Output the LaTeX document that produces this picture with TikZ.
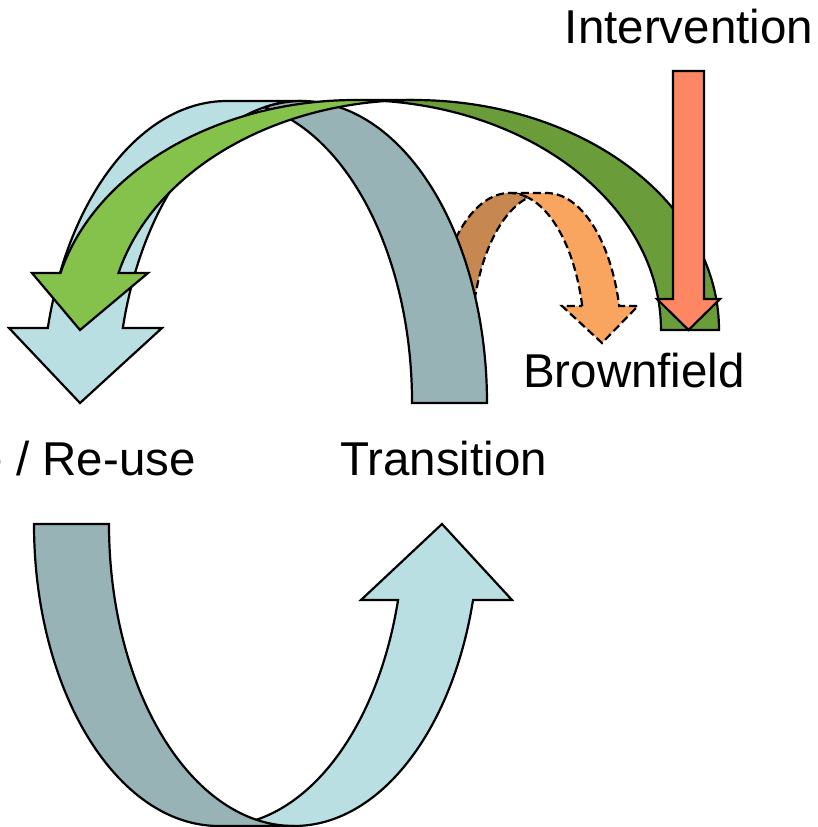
\documentclass[tikz,border=0pt]{standalone}
\usepackage{fontspec}
\setmainfont{Liberation Sans}
\definecolor{iceblue}{HTML}{B9DFE3}
\definecolor{slateblue}{HTML}{97B3B6}
\definecolor{leafgreen}{HTML}{84C24B}
\definecolor{mossgreen}{HTML}{6A9D3A}
\definecolor{apricot}{HTML}{F9A55F}
\definecolor{rust}{HTML}{C68850}
\definecolor{salmon}{HTML}{FD8763}
\begin{document}
\begin{tikzpicture}[x=1pt,y=1pt,
  ribbon/.style={draw=black,line width=2.2pt,line join=miter,miter limit=3},
  dashribbon/.style={ribbon,dash pattern=on 8pt off 4pt},
  lbl/.style={font=\fontsize{47.5}{56}\selectfont,inner sep=0pt}]
\useasboundingbox (0,0) rectangle (817,-827);
\clip (0,0) rectangle (817,-827);

% small dashed arc towards Brownfield (sits behind the big arch)
\path[dashribbon,fill=apricot] (582.2,-306)
  arc[start angle=14.28,end angle=90,x radius=75,y radius=150] -- (546.5,-193)
  arc[start angle=90,end angle=14.28,x radius=75,y radius=150]
  -- (638,-306) -- (602,-343) -- (562,-306) -- cycle;
\path[dashribbon,fill=rust] (434.5,-343)
  arc[start angle=180,end angle=75.72,x radius=75,y radius=150]
  arc[start angle=104.28,end angle=180,x radius=75,y radius=150] -- cycle;

% big arch: Transition back to Use / Re-use
\path[ribbon,fill=iceblue] (47.8,-328)
  arc[start angle=165.62,end angle=90,x radius=185,y radius=302] -- (302,-101)
  arc[start angle=90,end angle=165.62,x radius=185,y radius=302]
  -- (162,-328) -- (80,-403) -- (9,-328) -- cycle;
\path[ribbon,fill=slateblue] (487,-403)
  arc[start angle=0,end angle=101.69,x radius=185,y radius=302]
  arc[start angle=78.31,end angle=0,x radius=185,y radius=302] -- cycle;

% lower loop: Use / Re-use up to Transition
\path[ribbon,fill=iceblue] (219,-826) -- (294,-826)
  arc[start angle=270,end angle=345.42,x radius=185,y radius=302]
  -- (512,-600) -- (442,-524) -- (361,-600) -- (398.04,-600)
  arc[start angle=345.42,end angle=270,x radius=185,y radius=302] -- cycle;
\path[ribbon,fill=slateblue] (34,-524)
  arc[start angle=180,end angle=270,x radius=185,y radius=302] -- (294,-826)
  arc[start angle=270,end angle=180,x radius=185,y radius=302] -- cycle;

% green arch from the intervention site to Use / Re-use
\path[ribbon,fill=leafgreen] (60.5,-273)
  arc[start angle=165.65,end angle=90,x radius=305,y radius=230] -- (414,-100)
  arc[start angle=90,end angle=165.65,x radius=305,y radius=230]
  -- (148,-273) -- (80,-330) -- (32,-273) -- cycle;
\path[ribbon,fill=mossgreen] (719,-330)
  arc[start angle=0,end angle=95.46,x radius=305,y radius=230]
  arc[start angle=84.54,end angle=0,x radius=305,y radius=230] -- cycle;

% straight intervention arrow
\path[ribbon,fill=salmon] (673,-71) -- (704,-71) -- (704,-299) -- (720,-299)
  -- (688.5,-330) -- (657,-299) -- (673,-299) -- cycle;

% labels
\node[lbl,anchor=base] (intervention) at (689,-43) {Intervention};
\node[lbl,anchor=base] (brownfield) at (634,-387) {Brownfield};
\node[lbl,anchor=base] (transition) at (443.5,-475) {Transition};
\node[lbl,anchor=base east] (reuse) at (196,-475) {Use / Re-use};
\end{tikzpicture}
\end{document}
